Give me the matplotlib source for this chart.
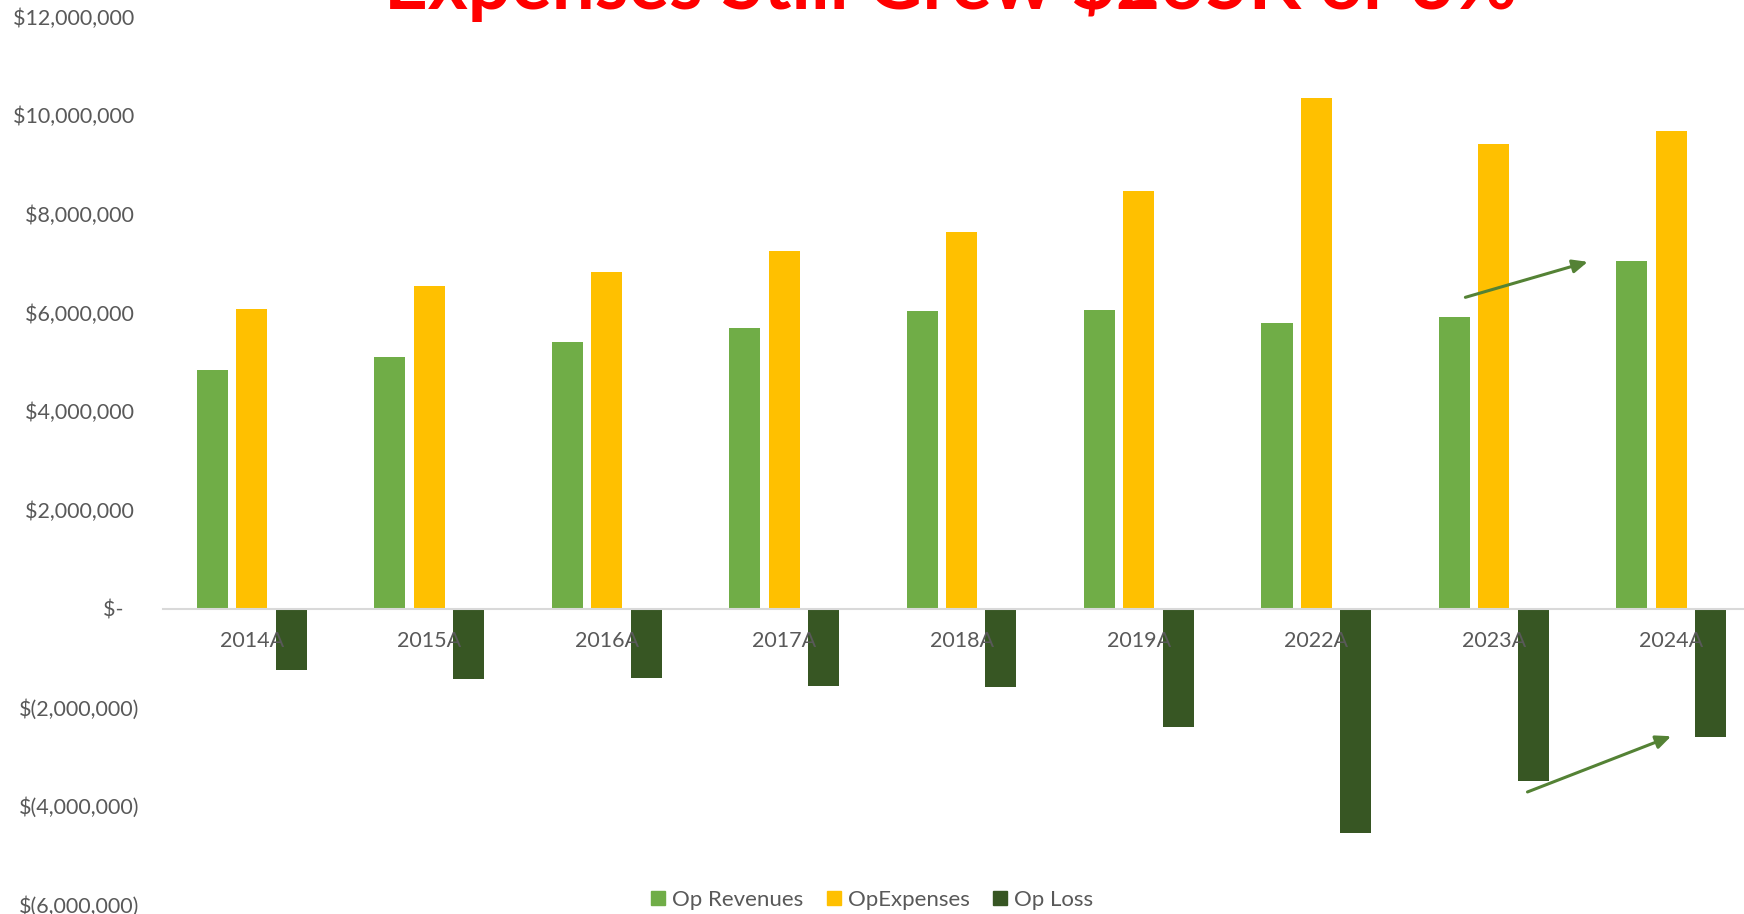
import matplotlib
matplotlib.use("Agg")
import matplotlib.pyplot as plt
import numpy as np
from matplotlib.lines import Line2D

years = ["2014A", "2015A", "2016A", "2017A", "2018A", "2019A", "2022A", "2023A", "2024A"]
op_revenues = [4.84e6, 5.11e6, 5.41e6, 5.68e6, 6.04e6, 6.06e6, 5.79e6, 5.92e6, 7.05e6]
op_expenses = [6.08e6, 6.53e6, 6.82e6, 7.25e6, 7.64e6, 8.47e6, 10.36e6, 9.41e6, 9.68e6]
op_loss = [-1.24e6, -1.42e6, -1.40e6, -1.58e6, -1.60e6, -2.41e6, -4.55e6, -3.49e6, -2.61e6]
series_names = ["Op Revenues", "OpExpenses", "Op Loss"]
ytick_values = [12e6, 10e6, 8e6, 6e6, 4e6, 2e6, 0, -2e6, -4e6, -6e6]
ytick_labels = ["$12,000,000 ", "$10,000,000 ", "$8,000,000 ", "$6,000,000 ", "$4,000,000 ",
                "$2,000,000 ", "$-   ", "$(2,000,000)", "$(4,000,000)", "$(6,000,000)"]
title_text = "Expenses Still Grew $265K or 3%"
# annotation arrows (x in category units, y in dollars)
arrow1 = ((6.84, 6.31e6), (7.53, 7.03e6))
arrow2 = ((7.19, -3.72e6), (8.00, -2.59e6))

colors = ["#70AD47", "#FFC000", "#375623"]
text_color = "#595959"
font = "Lato"

fig = plt.figure(figsize=(17.44, 9.14), dpi=100)
ax = fig.add_axes([0.0936, 0.0105, 0.9155, 0.9712])

x = np.arange(len(years))
w = 0.175
off = 0.222
ax.bar(x - off, op_revenues, w, color=colors[0], zorder=1)
ax.bar(x, op_expenses, w, color=colors[1], zorder=1)
ax.bar(x + off, op_loss, w, color=colors[2], zorder=1)

ax.set_xlim(-0.5, len(years) - 0.5)
ax.set_ylim(-6e6, 12e6)

for s in ["top", "right", "left"]:
    ax.spines[s].set_visible(False)
ax.spines["bottom"].set_position(("data", 0))
ax.spines["bottom"].set_color("#D9D9D9")
ax.spines["bottom"].set_linewidth(1.5)

ax.set_xticks(x)
ax.set_xticklabels(years, fontsize=15.5, color=text_color, family=font)
ax.tick_params(axis="x", length=0, pad=16)
ax.set_yticks(ytick_values)
ax.set_yticklabels(ytick_labels, fontsize=15.5, color=text_color, family=font)
ax.tick_params(axis="y", length=0, pad=17)

for (x0, y0), (x1, y1) in [arrow1, arrow2]:
    ax.annotate("", xy=(x1, y1), xytext=(x0, y0),
                arrowprops=dict(arrowstyle="-|>,head_length=0.9,head_width=0.4",
                                color="#548235", lw=2.2, shrinkA=0, shrinkB=0),
                zorder=5)

handles = [Line2D([], [], marker="s", linestyle="none", markersize=10,
                  markerfacecolor=c, markeredgecolor=c) for c in colors]
fig.legend(handles, series_names, loc="center", bbox_to_anchor=(0.499, 1 - 900 / 914),
           ncol=3, frameon=False, handletextpad=0.15, columnspacing=0.85,
           prop=dict(family=font, size=16), labelcolor=text_color, handlelength=1.0)

fig.text(0.545, 1 - 9 / 914, title_text, ha="center", va="baseline",
         color="#FF0000", fontsize=55, fontweight="bold", family=font)

fig.savefig("out.png", dpi=100)
